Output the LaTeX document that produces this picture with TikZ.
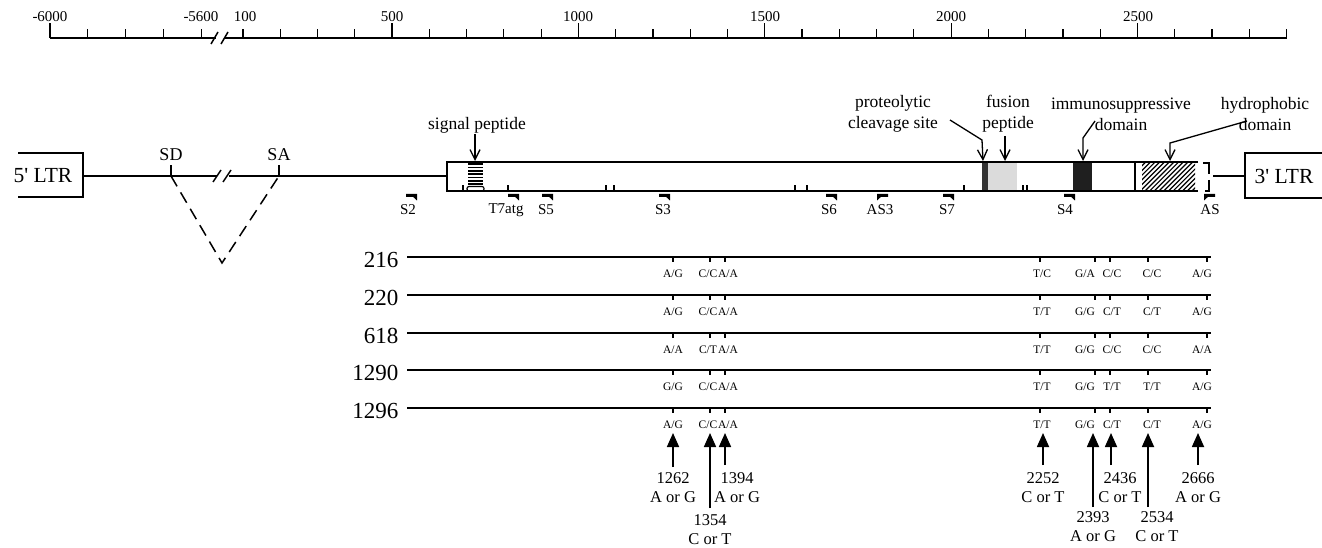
\documentclass[tikz,border=0pt]{standalone}
\usepackage{fontspec}
\setmainfont{Liberation Serif}
\usetikzlibrary{arrows.meta}
\newcommand\myfs[2]{\fontsize{#1}{#2}\selectfont}
\newcommand\fwdprimer[1]{\fill (#1-10,193.8) -- (#1+1,193.8) -- (#1+1,200.5) -- (#1-3,196.8) -- (#1-10,196.8) -- cycle;}
\newcommand\revprimer[1]{\fill (#1+10,193.8) -- (#1-1,193.8) -- (#1-1,200.5) -- (#1+3,196.8) -- (#1+10,196.8) -- cycle;}
\tikzset{
  rulelbl/.style={inner sep=0pt, font={\myfs{15}{18}}},
  ltr/.style={inner sep=0pt, font={\myfs{21.5}{26}}},
  sitelbl/.style={inner sep=0pt, font={\myfs{18}{21}}},
  dom/.style={inner sep=0pt, align=center, font={\myfs{17.5}{21}}},
  prim/.style={inner sep=0pt, font={\myfs{15}{18}}},
  rowlbl/.style={inner sep=0pt, anchor=base east, font={\myfs{23}{26}}},
  al/.style={inner sep=0pt, font={\myfs{11.5}{13}}},
  numlbl/.style={inner sep=0pt, align=center, font={\myfs{16.5}{19}}},
  domarrow/.style={line width=1.3pt, -{Straight Barb[length=10pt,width=10pt,line width=1.3pt]}},
  bigarrow/.style={line width=1.7pt, -{Triangle[length=14pt,width=12pt]}},
}
\newcommand\allelerow[9]{%
  \foreach \tx in {673,710,725,1040,1095,1110,1148,1207} {\draw[line width=1.2pt] (\tx,#1) -- (\tx,#1+5);}
  \node[al] (a#1-1) at (673,#1+16.5) {#2};
  \node[al] (a#1-2) at (708,#1+16.5) {#3};
  \node[al] (a#1-3) at (728,#1+16.5) {#4};
  \node[al] (a#1-4) at (1042,#1+16.5) {#5};
  \node[al] (a#1-5) at (1085,#1+16.5) {#6};
  \node[al] (a#1-6) at (1112,#1+16.5) {#7};
  \node[al] (a#1-7) at (1152,#1+16.5) {#8};
  \node[al] (a#1-8) at (1202,#1+16.5) {#9};
}
\begin{document}
\begin{tikzpicture}[x=1pt,y=-1pt,line width=1.5pt]
\useasboundingbox (0,0) rectangle (1322,548);

% ---------- ruler ----------
\draw[line width=1.8pt] (50,38) -- (216,38);
\draw[line width=1.8pt] (225,38) -- (1287,38);
\draw[line width=1.5pt] (211,44) -- (218,32);
\draw[line width=1.5pt] (221,44) -- (228,32);
\draw[line width=1.2pt] (50,38) -- (50,23);
\foreach \i in {1,...,4} {\draw[line width=1.2pt] (50+\i*37.8,38) -- (50+\i*37.8,29);}
\foreach \k in {0,...,28} {\pgfmathsetmacro\xx{243+\k*37.27}\draw[line width=1.2pt] (\xx,38) -- (\xx,29);}
\foreach \k in {4,9,14,19,24} {\pgfmathsetmacro\xx{243+\k*37.27}\draw[line width=1.2pt] (\xx,38) -- (\xx,23);}
\node[rulelbl] (r1) at (50,17) {-6000};
\node[rulelbl] (r2) at (201,17) {-5600};
\node[rulelbl] (r3) at (245,17) {100};
\node[rulelbl] (r4) at (392,17) {500};
\node[rulelbl] (r5) at (578,17) {1000};
\node[rulelbl] (r6) at (765,17) {1500};
\node[rulelbl] (r7) at (951,17) {2000};
\node[rulelbl] (r8) at (1138,17) {2500};

% ---------- provirus ----------
\draw (18,153) -- (83,153) -- (83,197) -- (18,197);
\node[ltr] (ltr5) at (43,176) {5\textquotesingle{} LTR};
\draw (1322,153) -- (1245,153) -- (1245,198) -- (1322,198);
\node[ltr] (ltr3) at (1284,176) {3\textquotesingle{} LTR};

\coordinate (sd) at (171,176);
\coordinate (sa) at (279,176);
\coordinate (apex) at (222,263);
\draw (83,176) -- (217,176);
\draw (229,176) -- (447,176);
\draw (213,182) -- (221,170);
\draw (223,182) -- (231,170);
\draw (sd) -- (171,165);
\draw (sa) -- (279,165);
\node[sitelbl] (sdl) at (171,155) {SD};
\node[sitelbl] (sal) at (279,155) {SA};
\draw[line width=1.5pt, dash pattern=on 12pt off 7pt] (sd) -- (apex) -- (sa);

% env box
\draw (1198,162) -- (447,162) -- (447,191) -- (1198,191);
% signal peptide stripes
\foreach \i in {0,...,6} {\draw[line width=1.8pt] (468,164.3+\i*3.3) -- (483,164.3+\i*3.3);}
\draw[line width=1.2pt, rounded corners=2pt] (467,186.5) rectangle (484,191);
% small ticks on bottom edge
\foreach \tx in {463,508,606,614,807,964,1023,1027} {\draw[line width=1.1pt] (\tx,191) -- (\tx,185.5);}
\draw[line width=2.4pt] (795,191) -- (795,185.5);
% cleavage / fusion / immunosuppressive
\fill[black!80] (982,162.8) rectangle (988,190.2);
\fill[black!14] (988,162.8) rectangle (1017,190.2);
\fill[black!88] (1073,162.8) rectangle (1092,190.2);
\draw (1135,162) -- (1135,191);
% hydrophobic hatch
\begin{scope}
\clip (1142,162.8) rectangle (1195,190.2);
\foreach \i in {0,...,18} {\draw[line width=1.2pt] (1112+\i*4.7,191) -- ++(30,-30);}
\end{scope}
% end bracket
\draw[line width=1.3pt] (1203,163) -- (1209,163) -- (1209,174);
\draw[line width=1.3pt] (1209,180) -- (1209,191) -- (1205,191);
\draw (1213,176) -- (1245,176);

% domain labels
\node[dom] (sig) at (477,125) {signal peptide};
\node[dom] (cleave) at (893,114) {proteolytic\\cleavage site};
\node[dom] (fus) at (1008,114) {fusion\\peptide};
\node[dom] (imm) at (1121,114) {immunosuppressive\\domain};
\node[dom] (hyd) at (1265,114) {hydrophobic\\domain};
\coordinate (sigT) at (475,161);
\coordinate (clT) at (983,161);
\coordinate (fuT) at (1005,161);
\coordinate (imT) at (1083,161);
\coordinate (hyT) at (1170,161);
\draw[domarrow] (475,134) -- (sigT);
\draw[domarrow] (950,120) -- (982,140) -- (clT);
\draw[domarrow] (1005,136) -- (fuT);
\draw[domarrow] (1095,121) -- (1083,138) -- (imT);
\draw[domarrow] (1247,121) -- (1170,143) -- (hyT);

% primers
\fwdprimer{416}
\fwdprimer{518}
\fwdprimer{552}
\fwdprimer{669}
\fwdprimer{836}
\revprimer{878}
\fwdprimer{953}
\fwdprimer{1074}
\revprimer{1205}
\node[prim] (pS2) at (408,210) {S2};
\node[prim] (pT7) at (506,210) {T7atg};
\node[prim] (pS5) at (546,210) {S5};
\node[prim] (pS3) at (663,210) {S3};
\node[prim] (pS6) at (829,210) {S6};
\node[prim] (pAS3) at (880,210) {AS3};
\node[prim] (pS7) at (947,210) {S7};
\node[prim] (pS4) at (1065,210) {S4};
\node[prim] (pAS) at (1210,210) {AS};

% ---------- allele rows ----------
\foreach \y in {257,295,333,370,408} {\draw[line width=1.5pt] (407,\y) -- (1211,\y);}
\node[rowlbl] (row216) at (399,267) {216};
\node[rowlbl] (row220) at (399,305) {220};
\node[rowlbl] (row618) at (399,343) {618};
\node[rowlbl] (row1290) at (399,380) {1290};
\node[rowlbl] (row1296) at (399,418) {1296};
\allelerow{257}{A/G}{C/C}{A/A}{T/C}{G/A}{C/C}{C/C}{A/G}
\allelerow{295}{A/G}{C/C}{A/A}{T/T}{G/G}{C/T}{C/T}{A/G}
\allelerow{333}{A/A}{C/T}{A/A}{T/T}{G/G}{C/C}{C/C}{A/A}
\allelerow{370}{G/G}{C/C}{A/A}{T/T}{G/G}{T/T}{T/T}{A/G}
\allelerow{408}{A/G}{C/C}{A/A}{T/T}{G/G}{C/T}{C/T}{A/G}

% ---------- SNP arrows ----------
\foreach \nm/\tx/\ty in {s1262/673/467, s1354/710/508, s1394/725/465, s2252/1043/465, s2393/1093/507, s2436/1111/465, s2534/1148/507, s2666/1198/465} {
  \coordinate (\nm-tail) at (\tx,\ty);
  \coordinate (\nm-tip) at (\tx,433);
  \draw[bigarrow] (\nm-tail) -- (\nm-tip);
}
\node[numlbl] (n1262) at (673,487.5) {1262\\A or G};
\node[numlbl] (n1354) at (710,530) {1354\\C or T};
\node[numlbl] (n1394) at (737,487.5) {1394\\A or G};
\node[numlbl] (n2252) at (1043,487.5) {2252\\C or T};
\node[numlbl] (n2393) at (1093,527) {2393\\A or G};
\node[numlbl] (n2436) at (1120,487.5) {2436\\C or T};
\node[numlbl] (n2534) at (1157,527) {2534\\C or T};
\node[numlbl] (n2666) at (1198,487.5) {2666\\A or G};
\end{tikzpicture}
\end{document}
